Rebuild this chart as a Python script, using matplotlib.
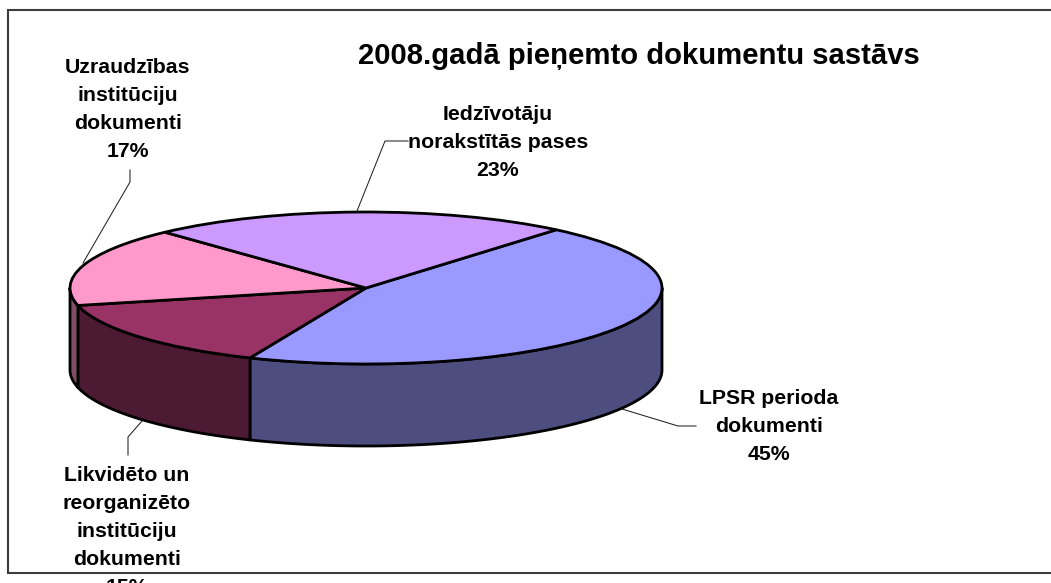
import numpy as np
import matplotlib
matplotlib.use("Agg")
import matplotlib.pyplot as plt

plt.rcParams['font.family'] = ['Liberation Sans', 'DejaVu Sans']

W, H = 1051, 583

title = "2008.gadā pieņemto dokumentu sastāvs"
labels = ["LPSR perioda\ndokumenti\n45%",
          "Likvidēto un\nreorganizēto\ninstitūciju\ndokumenti\n15%",
          "Uzraudzības\ninstitūciju\ndokumenti\n17%",
          "Iedzīvotāju\nnorakstītās pases\n23%"]
# labels show them rounded
values = [45.3, 14.9, 16.8, 23.0]
top_colors = ["#9999FF", "#993366", "#FF99CC", "#CC99FF"]
side_colors = ["#4D4D80", "#4D1A33", "#804D66", "#664D80"]

# where the pie sits, in pixels
cx, cy, rx, ry, depth = 366, 288, 296, 76, 82
start = 50

fig = plt.figure(figsize=(W / 100, H / 100), dpi=100, facecolor="white")

# overlay in pixel coordinates for frame, labels and leader lines
over = fig.add_axes([0, 0, 1, 1], zorder=2)
over.set_xlim(0, W)
over.set_ylim(H, 0)
over.axis("off")

ax = fig.add_axes([0, 0, 1, 1], zorder=1)
ax.pie(values, startangle=start, counterclock=False, colors=top_colors, radius=1,
       wedgeprops=dict(edgecolor="black", linewidth=2.0, zorder=5))
ax.set_aspect("auto")
ax.set_xlim((0 - cx) / rx, (W - cx) / rx)
ax.set_ylim((cy - H) / ry, cy / ry)
ax.axis("off")

# side wall of the disc, only the front half shows
d = depth / ry
edges = start - np.cumsum([0] + values) * 3.6
for i in range(len(values)):
    a0, a1 = edges[i], edges[i + 1]
    # keep the part of the slice between -180 and 0 degrees
    lo = max(a1, -180)
    hi = min(a0, 0)
    if lo >= hi:
        continue
    t = np.radians(np.linspace(hi, lo, 120))
    xs = np.r_[np.cos(t), np.cos(t)[::-1]]
    ys = np.r_[np.sin(t), np.sin(t)[::-1] - d]
    ax.fill(xs, ys, facecolor=side_colors[i], edgecolor="black", linewidth=2.0,
            joinstyle="round", zorder=3)

# frame, the right side runs off the picture
over.plot([W, 8, 8, W], [10, 10, 572.5, 572.5], color="#3c3c3c", lw=1.5,
          solid_joinstyle="miter")

# leader lines
leaders = [([696, 678, 622], [426, 426, 409]),
           ([128, 128, 142], [455, 437, 421]),
           ([130, 130, 83], [170, 182, 263]),
           ([408, 385, 357], [141, 141, 211])]
for lx, ly in leaders:
    over.plot(lx, ly, color="#222222", lw=0.75)

label_pos = [(769, 427), (127, 531.5), (128, 109.5), (498, 142)]
for (lx, ly), txt in zip(label_pos, labels):
    over.text(lx, ly, txt, ha="center", va="center", fontsize=15.3, fontweight="bold",
              linespacing=1.6, color="black", clip_on=False)

over.text(638.5, 56, title, ha="center", va="center", fontsize=21.1, fontweight="bold",
          color="black")

fig.savefig("out.png", dpi=100)
